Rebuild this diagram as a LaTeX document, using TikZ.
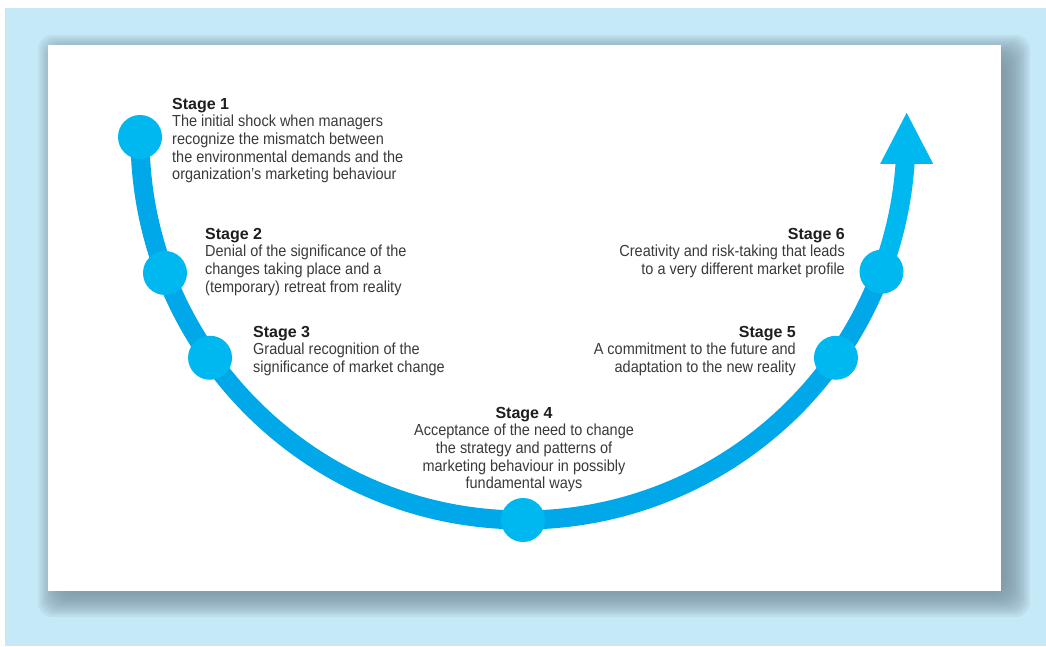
\documentclass[tikz,border=0pt]{standalone}
\usepackage{fontspec}
\setmainfont{Liberation Sans}[FakeStretch=0.905, BoldFeatures={FakeStretch=1.0}]
\usetikzlibrary{calc}
\definecolor{bgblue}{RGB}{198,233,248}
\definecolor{shadowgray}{RGB}{118,142,156}
\definecolor{curveblue}{RGB}{0,168,234}
\definecolor{dotblue}{RGB}{0,184,240}
\definecolor{textgray}{RGB}{58,58,58}
\definecolor{headgray}{RGB}{30,30,30}
\newcommand{\stagehead}[1]{{\color{headgray}\bfseries Stage #1}}

\begin{document}
\begin{tikzpicture}[
  x=1pt, y=1pt,
  dot/.style={circle, fill=dotblue, minimum size=44pt, inner sep=0pt},
  curve/.style={line width=19pt, draw=curveblue},
  stagetext/.style={inner sep=0pt, text=textgray, font=\fontsize{16}{17.6}\selectfont}
]
\useasboundingbox (0,0) rectangle (1046,646);
\fill[bgblue] (5,0) rectangle (1046,638);

% soft shadow round the panel
\foreach \e in {0,2,...,30}
  \fill[shadowgray, opacity=0.11, rounded corners=14pt] ({68-\e},{581+\e}) rectangle ({1000+\e},{59-\e});
\fill[white] (48,55) rectangle (1001,601);

% the U curve and its head
\coordinate (c) at (523,509);
\draw[curve] (c) ++(180:383) arc[start angle=180, end angle=339.4, radius=383];
\draw[curve, draw=dotblue] (c) ++(339:383) arc[start angle=339, end angle=356.2, radius=383] coordinate (shaft);
\fill[dotblue] (shaft) ++(-25,-1.5) -- ++(53,0) -- ++(-26.5,51) -- cycle;

\node[dot] (s1) at ($(c)+(180:383)$) {};
\node[dot] (s2) at ($(c)+(200.8:383)$) {};
\node[dot] (s3) at ($(c)+(215.2:383)$) {};
\node[dot] (s4) at ($(c)+(270:383)$) {};
\node[dot] (s5) at ($(c)+(324.8:383)$) {};
\node[dot] (s6) at ($(c)+(339.4:383)$) {};

% stage texts
\node[stagetext, anchor=north west, align=left] (t1) at (172,548)
  {\stagehead{1}\\The initial shock when managers\\recognize the mismatch between\\the environmental demands and the\\organization’s marketing behaviour};
\node[stagetext, anchor=north west, align=left] (t2) at (205,418)
  {\stagehead{2}\\Denial of the significance of the\\changes taking place and a\\(temporary) retreat from reality};
\node[stagetext, anchor=north west, align=left] (t3) at (253,320)
  {\stagehead{3}\\Gradual recognition of the\\significance of market change};
\node[stagetext, anchor=north, align=center] (t4) at (524,239)
  {\stagehead{4}\\Acceptance of the need to change\\the strategy and patterns of\\marketing behaviour in possibly\\fundamental ways};
\node[stagetext, anchor=north east, align=right] (t5) at (796,320)
  {\stagehead{5}\\A commitment to the future and\\adaptation to the new reality};
\node[stagetext, anchor=north east, align=right] (t6) at (845,418)
  {\stagehead{6}\\Creativity and risk-taking that leads\\to a very different market profile};
\end{tikzpicture}
\end{document}
